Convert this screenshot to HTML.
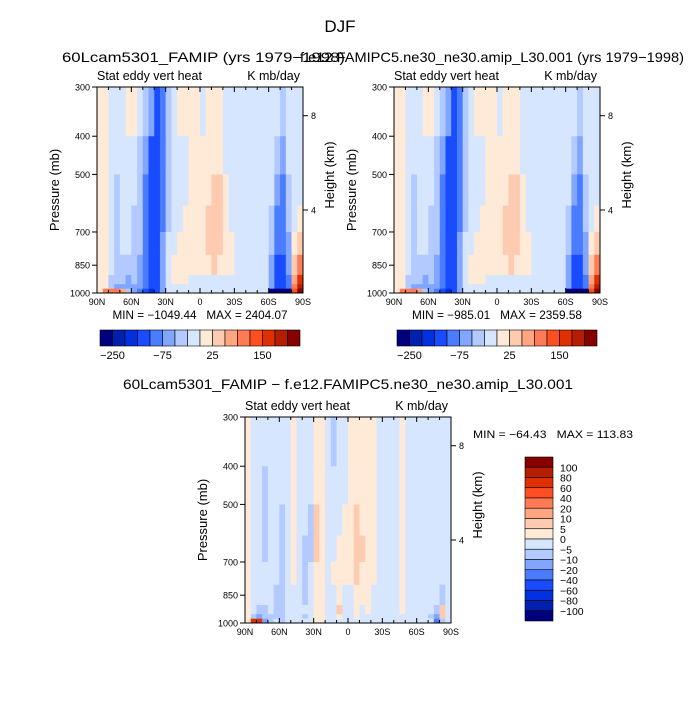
<!DOCTYPE html>
<html><head><meta charset="utf-8"><style>
body{margin:0;background:#fff;}
svg{display:block;font-family:"Liberation Sans",sans-serif;}
text{white-space:pre;}
</style></head><body>
<svg id="fig" width="695" height="710" viewBox="0 0 695 710">
<text x="340" y="32" font-size="17" text-anchor="middle" fill="#000">DJF</text>
<g id="p1"></g>
<g id="p2"></g>
<g id="p3"></g>
</svg>
<script>
const latCenters = [];
for (let i = 0; i < 36; i++) latCenters.push(87.5 - 5 * i);
const pEdges = [300, 400, 500, 600, 700, 800, 900, 950, 975, 1000];
const colors = ["#00007f","#0020b0","#0030e0","#1a4cff","#4a7cff","#80a6ff","#b2caff","#d6e6ff","#ffead8","#ffcbb0","#ffa582","#ff7b55","#ff4f20","#e03000","#b51e00","#870000"];
const levels1 = [-250,-200,-150,-100,-75,-50,-25,0,25,50,75,100,150,200,250];
const levels3 = [-100,-80,-60,-40,-20,-10,-5,0,5,10,20,40,60,80,100];
const cbLabels1 = ["-250","-75","25","150"];
const cbLabels3 = ["100","80","60","40","20","10","5","0","-5","-10","-20","-40","-60","-80","-100"];
const xTickLabels = ["90N","60N","30N","0","30S","60S","90S"];
const pTicks = [300,400,500,700,850,1000];
const zTicks = [8,4];

const field1 = [
[10,10,-10,-10,-10,10,10,-10,-40,-60,-110,-80,-30,-10,10,10,10,10,-10,10,10,10,-10,-10,-10,-10,-10,-10,-10,-10,-10,-10,-40,-10,-10,-10],
[10,10,-10,-10,-10,-10,-10,-30,-60,-110,-110,-80,-30,-10,-10,-10,10,10,10,10,10,10,-10,-10,-10,-10,-10,-10,-10,-10,-10,-40,-60,-10,-10,-10],
[10,10,-10,-30,-10,-10,-10,-30,-80,-110,-120,-80,-30,-10,-10,-10,10,10,10,10,30,30,10,-10,-10,-10,-10,-10,-10,-10,-10,-60,-80,-30,-10,-10],
[10,10,-10,-30,-10,-10,-30,-30,-80,-120,-120,-80,-30,-10,-10,10,10,10,10,30,40,30,10,-10,-10,-10,-10,-10,-10,-10,-30,-80,-100,-30,-10,10],
[10,10,-10,-30,-10,-10,-30,-30,-80,-120,-120,-60,-10,-10,10,10,10,10,10,30,40,30,10,10,-10,-10,-10,-10,-10,-10,-30,-80,-100,-60,10,30],
[10,10,-10,-30,-30,-30,-30,-60,-80,-120,-120,-60,-10,10,10,10,10,10,10,10,30,10,10,10,-10,-10,-10,-10,-10,-10,-60,-110,-110,-60,30,90],
[10,10,-30,-30,-30,-60,-30,-60,-80,-120,-110,-60,-10,10,10,10,-10,-10,-10,-10,-10,-10,-10,-10,-10,-10,-10,-10,-10,-10,-60,-110,-110,-80,60,150],
[10,10,-30,-60,-60,-60,-60,-60,-100,-130,-110,-60,-10,-10,-10,-10,-10,-10,-10,-10,-10,-10,-10,-10,-10,-10,-10,-10,-10,-10,-60,-120,-120,-100,80,200],
[10,80,90,80,60,-30,-60,-80,-150,-180,-120,-60,-10,-10,-10,-10,-10,-10,-10,-10,-10,-10,-10,-10,-10,-10,-10,-10,-10,-10,-300,-300,-300,-300,100,300]
];
const field3 = [
[3,-2,-2,-2,-2,-2,-2,-2,3,-2,-2,-2,3,3,-2,-8,-2,-2,3,3,3,3,3,-2,-2,-2,-2,3,-2,-2,-2,-2,-2,-2,-2,-2],
[3,-2,-2,-8,-2,-2,-2,-2,3,-2,-2,-2,3,3,-2,-2,-2,-2,3,3,3,3,3,-2,-2,-2,-2,3,-2,-2,-2,-2,-2,-2,-2,-2],
[3,-2,-2,-8,-2,-2,-8,-2,3,-2,-2,-8,7,3,-2,-2,-2,3,3,7,3,3,3,-2,-2,-2,-2,3,-2,-2,-2,-2,-2,-2,-2,-2],
[3,-2,-2,-8,-2,-2,-8,-2,3,-2,-8,-8,7,3,-2,-2,3,3,3,7,7,3,3,-2,-2,-2,-2,3,-2,-2,-2,-2,-2,-2,-2,-2],
[3,-2,-2,-2,-2,-2,-8,-2,3,-2,-8,-2,3,3,-2,3,3,3,3,7,3,3,3,-2,-2,-2,-2,3,-2,-2,-2,-2,-2,-2,-2,-2],
[3,-2,-2,-2,-2,-8,-8,-2,-2,-2,-8,-2,3,3,-2,-2,3,-2,-2,3,3,3,-2,-2,-2,-2,-2,3,-2,-2,-2,-2,-2,-2,-8,-2],
[3,-2,-8,-8,-2,-8,-8,-2,-2,-2,-2,-2,3,3,-2,-2,7,-2,-2,3,-2,3,-2,-2,-2,-2,-2,3,-2,-2,-2,-2,-2,-8,7,-2],
[3,-8,-20,-8,-8,-8,-8,-2,-2,-2,-8,-2,3,3,-2,-2,3,-2,-2,3,-2,-2,-2,-2,-2,-2,-2,-2,-2,-2,-2,-2,-8,-20,7,-2],
[3,60,60,-20,-8,-2,-8,-2,-2,-2,-2,-2,3,3,-2,-2,-2,-2,-2,-2,-2,-2,-2,-2,-2,-2,-2,-2,-2,-2,-2,-2,-2,-40,-8,-2]
];

const NS = "http://www.w3.org/2000/svg";
function mk(tag, attrs, parent) {
  const e = document.createElementNS(NS, tag);
  for (const k in attrs) e.setAttribute(k, attrs[k]);
  parent.appendChild(e);
  return e;
}
function colorFor(v, levels) {
  let i = 0;
  while (i < levels.length && v >= levels[i]) i++;
  return colors[i];
}
const PW = 206, PH = 206;
function drawPanel(g, x0, y0, field, levels) {
  const xs = lat => x0 + (90 - lat) / 180 * PW;
  const ys = p => y0 + Math.log(p / 300) / Math.log(1000 / 300) * PH;
  const cells = mk("g", {}, g);
  
  
  for (let r = 0; r < field.length; r++) {
    for (let c = 0; c < latCenters.length; c++) {
      const xa = xs(latCenters[c] + 2.5), xb = xs(latCenters[c] - 2.5);
      const ya = ys(pEdges[r]), yb = ys(pEdges[r + 1]);
      const rc = mk("rect", {x: xa, y: ya, width: xb - xa + 0.4, height: yb - ya + 0.4, fill: colorFor(field[r][c], levels)}, cells);
      
      
    }
  }
  const fr = mk("rect", {x: x0, y: y0, width: PW, height: PH, fill: "none", stroke: "#000", "stroke-width": 1}, g);
  
  
  for (let lat = 90; lat >= -90; lat -= 10) {
    const x = xs(lat), major = lat % 30 === 0;
    const L = major ? 5 : 3;
    mk("line", {x1: x, x2: x, y1: y0 + PH, y2: y0 + PH - L, stroke: "#000"}, g);
    mk("line", {x1: x, x2: x, y1: y0, y2: y0 + L, stroke: "#000"}, g);
  }
  xTickLabels.forEach((t, i) => {
    const tx = mk("text", {x: xs(90 - 30 * i), y: y0 + PH + 12, "font-size": 9, "text-anchor": "middle"}, g);
    tx.textContent = t;
    
    
  });
  pTicks.forEach(p => {
    const y = ys(p);
    mk("line", {x1: x0 - 5, x2: x0, y1: y, y2: y, stroke: "#000"}, g);
    const tx = mk("text", {x: x0 - 7, y: y + 3.5, "font-size": 9, "text-anchor": "end"}, g);
    tx.textContent = p;
    
    
  });
  zTicks.forEach(z => {
    const p = 1068 * Math.exp(-z / 7.26);
    const y = ys(p);
    mk("line", {x1: x0 + PW, x2: x0 + PW + 5, y1: y, y2: y, stroke: "#000"}, g);
    const tx = mk("text", {x: x0 + PW + 8, y: y + 3.5, "font-size": 9}, g);
    tx.textContent = z;
    
    
  });
  const yl = mk("text", {x: 0, y: 0, "font-size": 13, "text-anchor": "middle", transform: `translate(${x0 - 38},${y0 + PH / 2}) rotate(-90)`}, g);
  yl.textContent = "Pressure (mb)";
  
  
  const hl = mk("text", {x: 0, y: 0, "font-size": 13, "text-anchor": "middle", transform: `translate(${x0 + PW + 31},${y0 + PH / 2 - 15}) rotate(-90)`}, g);
  hl.textContent = "Height (km)";
  
  
  const s1 = mk("text", {x: x0, y: y0 - 7, "font-size": 12.5}, g);
  s1.textContent = "Stat eddy vert heat";
  
  
  const s2 = mk("text", {x: x0 + PW - 3, y: y0 - 7, "font-size": 12.5, "text-anchor": "end"}, g);
  s2.textContent = "K mb/day";
  
  
}
function hbar(g, x0, y0, w, h, labels) {
  const bw = w / 16;
  for (let i = 0; i < 16; i++) {
    const r = mk("rect", {x: x0 + i * bw, y: y0, width: bw, height: h, fill: colors[i], stroke: "#000", "stroke-width": 0.6}, g);
    
    
  }
  labels.forEach((t, k) => {
    const tx = mk("text", {x: x0 + (1 + 4 * k) * bw, y: y0 + h + 13, "font-size": 11, "text-anchor": "middle"}, g);
    tx.textContent = t.replace("-", "\u2212");
    
    
  });
}
function txt(g, x, y, s, size, anchor, name, len) {
  const t = mk("text", {x: x, y: y, "font-size": size, "text-anchor": anchor}, g);
  if (len) { t.setAttribute("textLength", len); t.setAttribute("lengthAdjust", "spacingAndGlyphs"); }
  t.textContent = s;
  
  
}
const g1 = document.getElementById("p1"), g2 = document.getElementById("p2"), g3 = document.getElementById("p3");
drawPanel(g1, 97, 87, field1, levels1);
drawPanel(g2, 394, 87, field1, levels1);
drawPanel(g3, 245, 417, field3, levels3);
txt(g1, 62, 62, "60Lcam5301_FAMIP (yrs 1979\u22121998)", 14, "start", "panel1-title", 283);
txt(g2, 300, 62, "f.e12.FAMIPC5.ne30_ne30.amip_L30.001 (yrs 1979\u22121998)", 14, "start", "panel2-title", 384);
txt(g3, 348, 389, "60Lcam5301_FAMIP \u2212 f.e12.FAMIPC5.ne30_ne30.amip_L30.001", 14, "middle", "panel3-title", 450);
txt(g1, 200, 319, "MIN = \u22121049.44   MAX = 2404.07", 11.5, "middle", "panel1-minmax", 175);
txt(g2, 497, 319, "MIN = \u2212985.01   MAX = 2359.58", 11.5, "middle", "panel2-minmax", 170);
txt(g3, 473, 438, "MIN = \u221264.43   MAX = 113.83", 11, "start", "panel3-minmax", 160);
hbar(g1, 100, 330, 200, 16, cbLabels1);
hbar(g2, 397, 330, 200, 16, cbLabels1);
const vb = 164 / 16;
for (let i = 0; i < 16; i++) {
  const r = mk("rect", {x: 525, y: 457 + i * vb, width: 28, height: vb, fill: colors[15 - i], stroke: "#000", "stroke-width": 0.6}, g3);
  
  
}
cbLabels3.forEach((t, k) => {
  txt(g3, 560, 457 + (k + 1) * vb + 4, t.replace("-", "\u2212"), 10.5, "start", "colorbar-label");
});
</script>
</body></html>
